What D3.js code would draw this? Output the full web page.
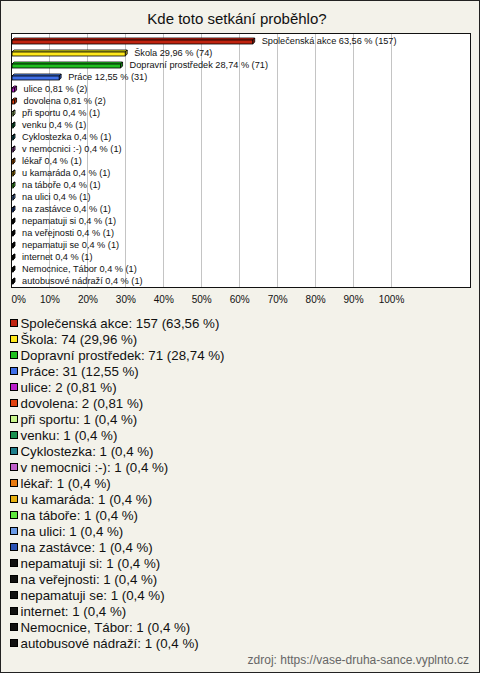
<!DOCTYPE html>
<html>
<head>
<meta charset="utf-8">
<script src="https://cdn.jsdelivr.net/npm/d3@7"></script>
<style>
  html, body { margin: 0; padding: 0; background: #fff; }
  svg { display: block; }
  text { font-family: "Liberation Sans", Arial, sans-serif; }
</style>
</head>
<body>
<script>
const title = "Kde toto setkání proběhlo?";
const source = "zdroj: https://vase-druha-sance.vyplnto.cz";
const categories = ["Společenská akce", "Škola", "Dopravní prostředek", "Práce", "ulice", "dovolena",
  "při sportu", "venku", "Cyklostezka", "v nemocnici :-)", "lékař", "u kamaráda", "na táboře",
  "na ulici", "na zastávce", "nepamatuji si", "na veřejnosti", "nepamatuji se", "internet",
  "Nemocnice, Tábor", "autobusové nádraží"];
const counts = [157, 74, 71, 31, 2, 2, 1, 1, 1, 1, 1, 1, 1, 1, 1, 1, 1, 1, 1, 1, 1];
const percents = [63.56, 29.96, 28.74, 12.55, 0.81, 0.81, 0.4, 0.4, 0.4, 0.4, 0.4, 0.4, 0.4,
  0.4, 0.4, 0.4, 0.4, 0.4, 0.4, 0.4, 0.4];
const colors = ["#c0230f", "#ffe81a", "#1fbf1f", "#3f6fe8", "#bb1fcc", "#e0420f", "#c8f58c",
  "#1a9050", "#1f7f8c", "#c060cc", "#e87a0f", "#e6b00f", "#5fe83f", "#6a9ae6", "#2a52b5",
  "#111111", "#111111", "#111111", "#111111", "#111111", "#111111"];
const tickValues = [0, 10, 20, 30, 40, 50, 60, 70, 80, 90, 100];

const W = 480, H = 673;
const fmt = v => String(v).replace(".", ",");
const data = categories.map((c, i) => ({ name: c, count: counts[i], pct: percents[i], color: colors[i] }));

const svg = d3.select("body").append("svg").attr("width", W).attr("height", H);
svg.append("rect").attr("x", 0.5).attr("y", 0.5).attr("width", W - 1).attr("height", H - 1)
  .attr("fill", "#f3f2ea").attr("stroke", "#222");

svg.append("text").attr("x", 237).attr("y", 24).attr("text-anchor", "middle")
  .attr("font-size", 15).attr("fill", "#111").text(title);

const plot = { left: 11.5, right: 470.5, top: 33.5, bottom: 287.5 };
const x = d3.scaleLinear().domain([0, 100]).range([plot.left, 391]);
const y = d3.scaleBand().domain(categories).range([35, 287]).padding(0);

svg.append("rect").attr("x", plot.left).attr("y", plot.top)
  .attr("width", plot.right - plot.left).attr("height", plot.bottom - plot.top)
  .attr("fill", "#fff");

// grid
svg.append("g").selectAll("line").data(tickValues.filter(t => t > 0)).join("line")
  .attr("x1", d => Math.round(x(d)) + 0.5).attr("x2", d => Math.round(x(d)) + 0.5)
  .attr("y1", plot.top).attr("y2", plot.bottom)
  .attr("stroke", "#c4c4c4").attr("stroke-width", 1);

svg.append("rect").attr("x", plot.left).attr("y", plot.top)
  .attr("width", plot.right - plot.left).attr("height", plot.bottom - plot.top)
  .attr("fill", "none").attr("stroke", "#111");

// bars (3D look)
const depth = 2, bh = 4;
const bars = svg.append("g").selectAll("g").data(data).join("g");
bars.each(function (d) {
  const g = d3.select(this);
  const cy = y(d.name) + y.bandwidth() / 2;
  const x0 = x(0) + 0.5, x1 = x(d.pct);
  const top = cy - bh / 2 + 1, bot = cy + bh / 2 + 1;
  const c = d3.color(d.color);
  // top face
  g.append("path")
    .attr("d", `M${x0},${top} L${x0 + depth},${top - depth} L${x1 + depth},${top - depth} L${x1},${top} Z`)
    .attr("fill", c.brighter(0.6)).attr("stroke", "#000").attr("stroke-width", 0.8);
  // right face
  g.append("path")
    .attr("d", `M${x1},${top} L${x1 + depth},${top - depth} L${x1 + depth},${bot - depth} L${x1},${bot} Z`)
    .attr("fill", c.darker(0.8)).attr("stroke", "#000").attr("stroke-width", 0.8);
  // front face
  g.append("rect").attr("x", x0).attr("y", top).attr("width", Math.max(0.5, x1 - x0)).attr("height", bot - top)
    .attr("fill", d.color).attr("stroke", "#000").attr("stroke-width", 0.8);
  g.append("text").attr("x", x1 + depth + 7).attr("y", cy).attr("dy", "0.35em")
    .attr("font-size", 9.2).attr("fill", "#111")
    .text(`${d.name} ${fmt(d.pct)} % (${d.count})`);
});

// axis labels
const axis = svg.append("g").attr("transform", `translate(0,${303})`)
  .call(d3.axisBottom(x).tickValues(tickValues).tickSize(0).tickPadding(0).tickFormat(d => d + "%"));
axis.select(".domain").remove();
axis.selectAll("text").attr("font-size", 10).attr("fill", "#111").attr("dy", 0)
  .attr("font-family", '"Liberation Sans", Arial, sans-serif')
  .filter(d => d === 0).attr("text-anchor", "start").attr("x", -0.5);

// legend
const leg = svg.append("g").selectAll("g").data(data).join("g")
  .attr("transform", (d, i) => `translate(0,${323 + i * 16})`);
leg.append("rect").attr("x", 10.5).attr("y", -3.5).attr("width", 7).attr("height", 7)
  .attr("fill", d => d.color).attr("stroke", "#000").attr("stroke-width", 1);
leg.append("text").attr("x", 20.5).attr("y", 4.8).attr("font-size", 13.3).attr("fill", "#111")
  .text(d => `${d.name}: ${d.count} (${fmt(d.pct)} %)`);

svg.append("text").attr("x", 469).attr("y", 664).attr("text-anchor", "end")
  .attr("font-size", 12).attr("fill", "#666").text(source);
</script>
</body>
</html>
